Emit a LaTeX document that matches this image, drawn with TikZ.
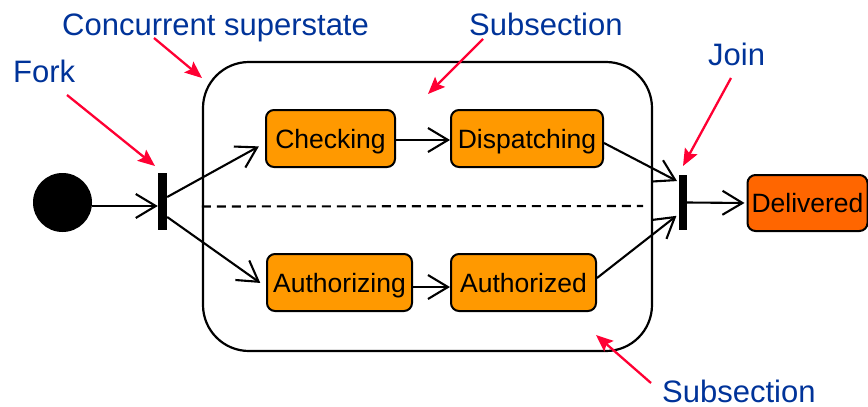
\documentclass[tikz,border=0pt]{standalone}
\usepackage{fontspec}
\setmainfont{Liberation Sans}
\usetikzlibrary{arrows.meta}
\definecolor{lblblue}{RGB}{0,51,153}
\definecolor{annred}{RGB}{255,0,51}
\definecolor{stateorange}{RGB}{255,153,0}
\definecolor{delivorange}{RGB}{255,102,0}
\begin{document}
\begin{tikzpicture}[x=1pt,y=-1pt,
  stateb/.style={draw,line width=2pt,rounded corners=8pt,fill=stateorange,minimum height=57pt,inner sep=0pt,text height=19pt,text depth=0pt,font=\fontsize{26.5}{30}\selectfont},
  bar/.style={fill=black,inner sep=0pt},
  flow/.style={line width=2.1pt,-{Straight Barb[length=20pt,width=24pt]}},
  annot/.style={line width=2.3pt,draw=annred,-{Stealth[length=17pt,width=14pt,inset=3pt]}},
  lbl/.style={text=lblblue,font=\fontsize{31}{36}\selectfont,inner sep=0pt,anchor=base west}]
\useasboundingbox (0,0) rectangle (868,407);
\clip (0,0) rectangle (868,407);
% superstate
\node[draw,line width=2.2pt,rounded corners=46pt,minimum width=449pt,minimum height=289pt,inner sep=0pt] (super) at (427.5,206.5) {};
\coordinate (dashend) at (643,206);
\draw[line width=2.1pt,dash pattern=on 9pt off 6pt] (super.west) -- (dashend);
% initial, fork, join
\node[circle,fill=black,minimum size=59pt,inner sep=0pt] (init) at (62.5,202.5) {};
\node[bar,minimum width=9pt,minimum height=57pt] (fork) at (162.5,201.5) {};
\node[bar,minimum width=8pt,minimum height=55pt] (join) at (683,202.5) {};
% states
\node[stateb,minimum width=129pt] (checking) at (330.5,138.5) {Checking};
\node[stateb,minimum width=152pt] (dispatching) at (527,138.5) {Dispatching};
\node[stateb,minimum width=145pt] (authorizing) at (339.5,282.5) {Authorizing};
\node[stateb,minimum width=145pt] (authorized) at (523.5,282.5) {Authorized};
\node[stateb,minimum width=120pt,minimum height=56pt,fill=delivorange,anchor=west] (delivered) at (746.5,203) {Delivered};
% transitions
\draw[flow] ([yshift=-3.5pt]init.east) -- ([yshift=-4.5pt]fork.west);
\draw[flow,shorten >=7pt] ([yshift=4.5pt]fork.east) -- ([yshift=-4.5pt]checking.west);
\draw[flow,shorten >=7pt] ([yshift=-15.5pt]fork.east) -- ([yshift=-4.5pt]authorizing.west);
\draw[flow] ([yshift=-1.5pt]checking.east) -- ([yshift=-1.5pt]dispatching.west);
\draw[flow] ([yshift=-4.5pt]authorizing.east) -- ([yshift=-4.5pt]authorized.west);
\draw[flow,shorten >=2pt] ([yshift=-4.5pt]dispatching.east) -- ([yshift=20.5pt]join.west);
\draw[flow,shorten >=3pt] ([yshift=4.5pt]authorized.east) -- ([yshift=-11.5pt]join.west);
\draw[flow,shorten >=2pt] (join.east) -- (delivered.west);
% labels
\node[lbl] (lfork) at (13,82) {Fork};
\node[lbl] (lsuper) at (62,35) {Concurrent superstate};
\node[lbl] (lsub1) at (469,35) {Subsection};
\node[lbl] (ljoin) at (708,65) {Join};
\node[lbl] (lsub2) at (662,402) {Subsection};
% annotation arrows
\coordinate (aforks) at (67,95);   \coordinate (aforke) at (155,166);
\coordinate (asups) at (154,38);   \coordinate (asupe) at (202,78);
\coordinate (asub1s) at (483,39);  \coordinate (asub1e) at (428,94);
\coordinate (ajoins) at (731,78);  \coordinate (ajoine) at (683,166);
\coordinate (asub2s) at (651,383); \coordinate (asub2e) at (596,335);
\draw[annot] (aforks) -- (aforke);
\draw[annot] (asups) -- (asupe);
\draw[annot] (asub1s) -- (asub1e);
\draw[annot] (ajoins) -- (ajoine);
\draw[annot] (asub2s) -- (asub2e);
\end{tikzpicture}
\end{document}
